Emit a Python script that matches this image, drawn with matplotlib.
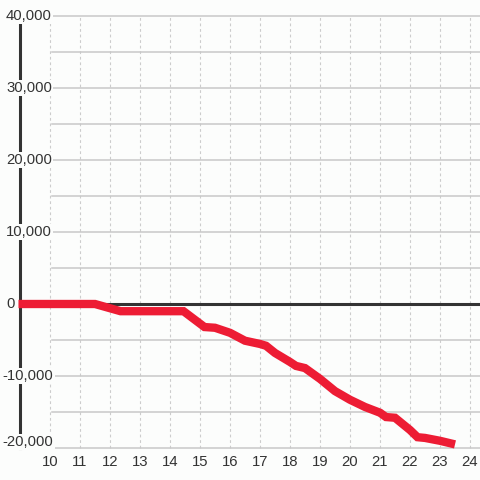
import matplotlib
matplotlib.use('Agg')
import matplotlib.pyplot as plt

# dane
czas = [8.95, 11.5, 12.35, 14.45, 15.15, 15.5, 16.0, 16.5, 17.0, 17.2, 17.5, 18.0, 18.2, 18.5,
        19.0, 19.5, 20.0, 20.5, 21.0, 21.2, 21.5, 22.0, 22.25, 22.5, 23.0, 23.5]
wartosci = [0, 0, -1000, -1000, -3200, -3300, -4000, -5100, -5550, -5800, -6800, -8050, -8600, -8900,
            -10400, -12100, -13300, -14300, -15100, -15700, -15800, -17500, -18500, -18600, -19000, -19500]

y_ticks = [-20000, -10000, 0, 10000, 20000, 30000, 40000]
y_grid = [-20000, -15000, -10000, -5000, 0, 5000, 10000, 15000, 20000, 25000, 30000, 35000, 40000]
x_ticks = [10, 11, 12, 13, 14, 15, 16, 17, 18, 19, 20, 21, 22, 23, 24]

tlo = '#fcfdfc'
szary_txt = '#333333'
plt.rcParams['font.family'] = ['Liberation Sans', 'DejaVu Sans']

fig = plt.figure(figsize=(4.8, 4.8), dpi=100, facecolor=tlo)
ax = fig.add_axes([20/480, 32/480, 460/480, 432/480])
ax.set_facecolor(tlo)
x_max = 9 + 460/30
px_y = 60000 / 432  # jednostki na piksel
ax.set_xlim(9, x_max)
ax.set_ylim(-20000, 40000)
ax.axis('off')

# siatka
for x in x_ticks:
    ax.plot([x, x], [-20000, 40000], color='#cccccc', lw=0.8, ls=(0, (2.5, 2.5)), zorder=1, clip_on=False)
for y in y_grid:
    ax.plot([10.07, x_max], [y, y], color='#c8c8c8', lw=1.1, zorder=1, clip_on=False)

# os zero i os pionowa
ax.plot([9, x_max], [0, 0], color=szary_txt, lw=2.2, zorder=2, clip_on=False)
ax.plot([9, 9], [-20000, 40000], color=szary_txt, lw=2.2, zorder=2, clip_on=False)

# linia danych
ax.plot(czas, wartosci, color='#ed1c34', lw=6, solid_joinstyle='miter', solid_capstyle='butt',
        zorder=4, clip_on=False)

# etykiety osi y - wyrownane do lewej
for y in y_ticks:
    px = 6 if y >= 0 else 2.5
    yy = y + 6 * px_y if y == -20000 else y
    ax.text(9 + (px - 20) / 30, yy, f'{y:,}', ha='left', va='center', fontsize=10.7, color=szary_txt,
            zorder=3, bbox=dict(fc=tlo, ec='none', pad=1.0))
# etykiety osi x
for x in x_ticks:
    ax.text(x, -20000 - 14 * px_y, str(x), ha='center', va='center', fontsize=10.7,
            color=szary_txt)

fig.savefig('out.png', dpi=100, facecolor=tlo)
